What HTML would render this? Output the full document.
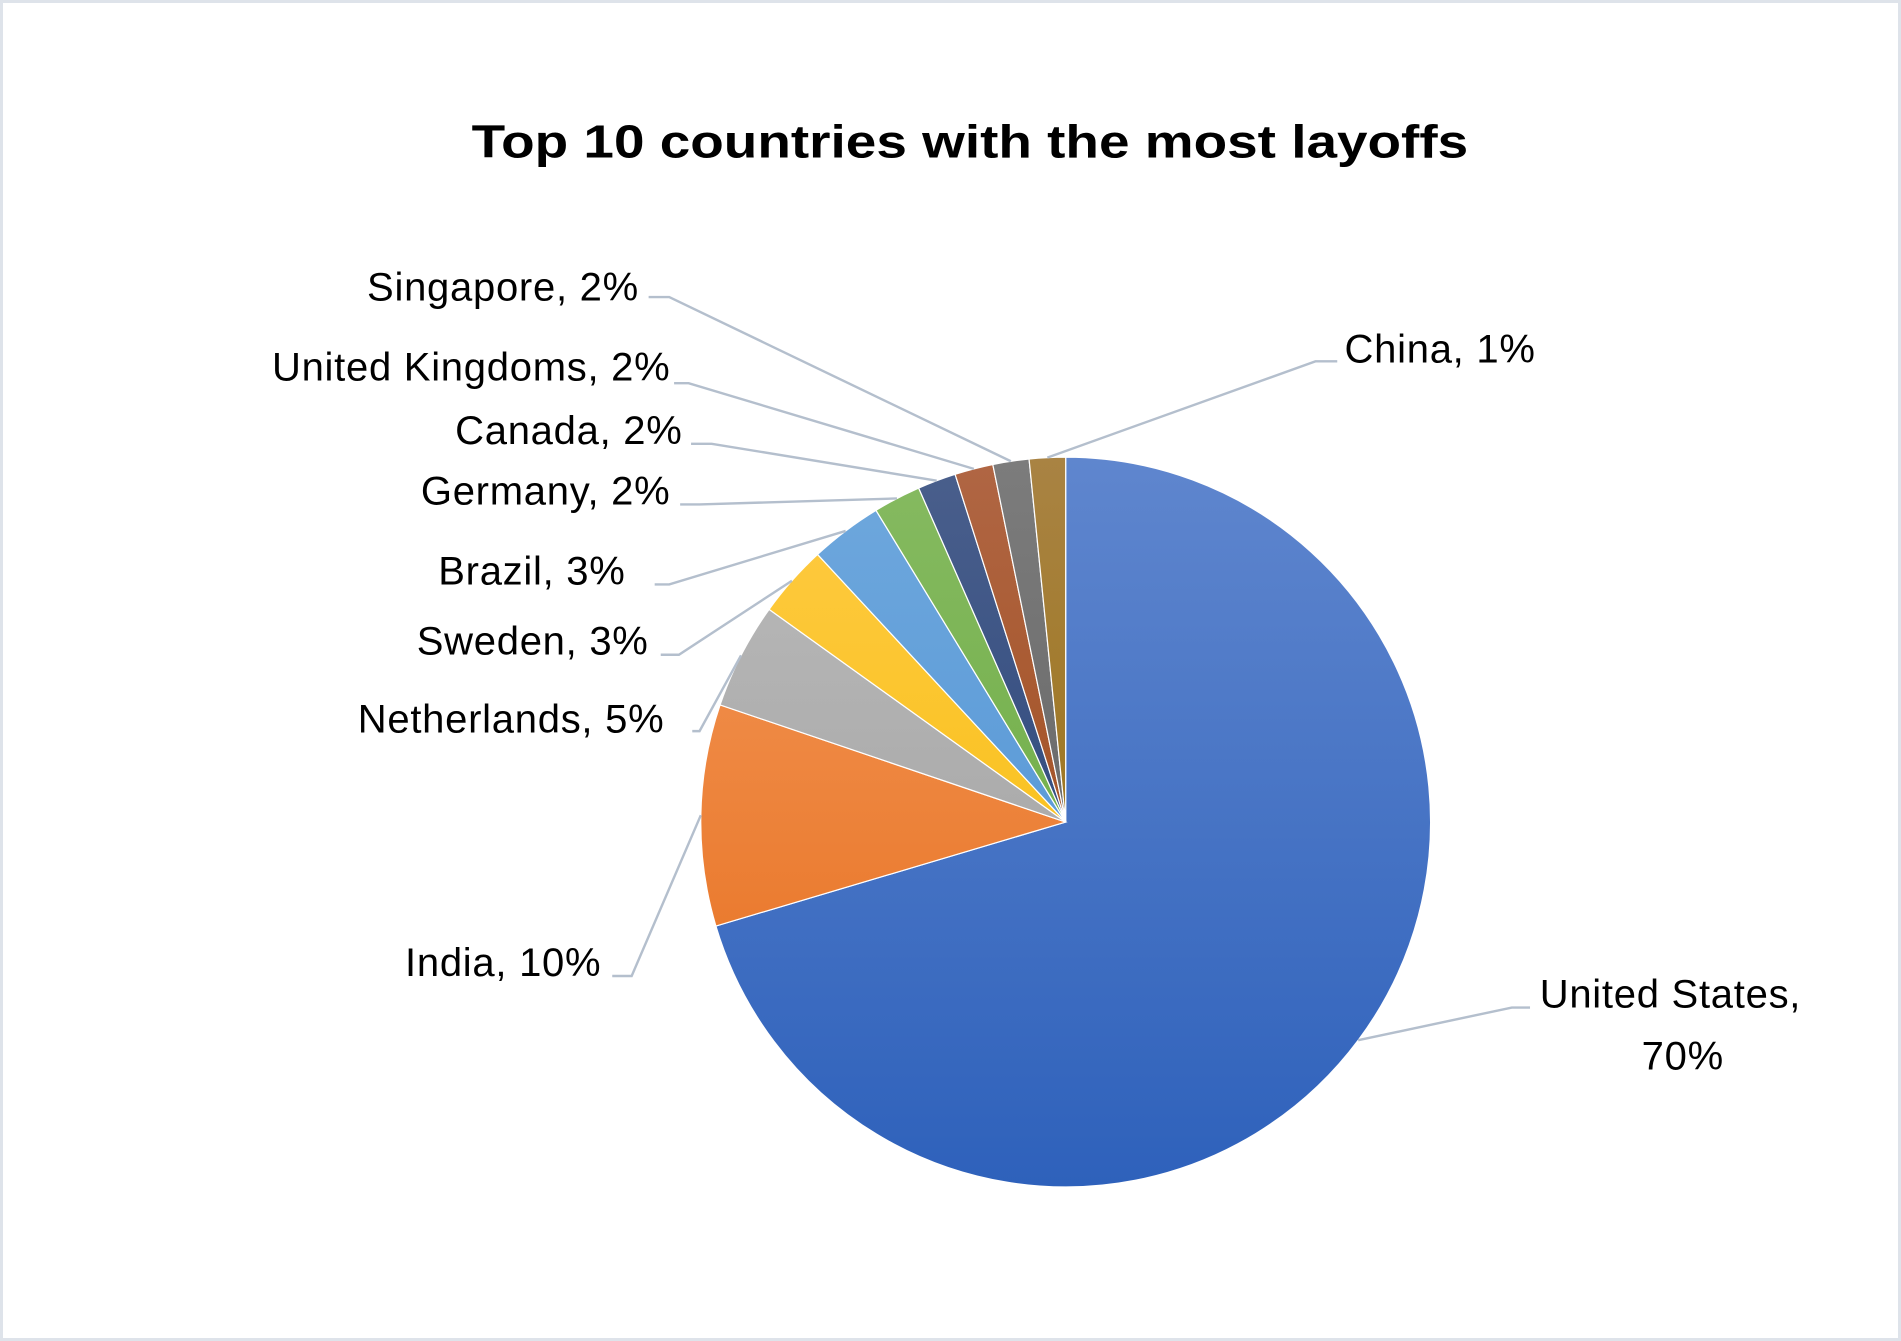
<!DOCTYPE html>
<html><head><meta charset="utf-8"><style>
html,body{margin:0;padding:0;background:#fff;}
#wrap{width:1901px;height:1341px;box-sizing:border-box;border:3px solid #DEE3EA;position:relative;overflow:hidden;}
svg{position:absolute;left:-3px;top:-3px;}
text{font-family:"Liberation Sans",sans-serif;fill:#000;}
</style></head><body>
<div id="wrap">
<svg id="chart" width="1901" height="1341" viewBox="0 0 1568 1106">
<defs id="defs"></defs>
<text x="800" y="130" text-anchor="middle" font-size="38" font-weight="bold" textLength="822" lengthAdjust="spacingAndGlyphs">Top 10 countries with the most layoffs</text>
<g id="slices"></g>
<g id="leaders"></g>
<g id="labels"></g>
</svg>
</div>
<script>
const categories = ["United States","India","Netherlands","Sweden","Brazil","Germany","Canada","United Kingdoms","Singapore","China"];
const values = [70.4, 9.8, 4.7, 3.2, 3.2, 2.1, 1.7, 1.7, 1.6, 1.6];
const percentLabels = ["70%","10%","5%","3%","3%","2%","2%","2%","2%","1%"];
const colorsTop = ["#5F86CE","#F49A5C","#BBBBBB","#FFCB45","#6FA8DD","#86BA61","#4A5F8C","#B06644","#7C7C7C","#A98343"];
const colorsBot = ["#2E61BB","#E56A17","#9C9C9C","#F4BA00","#4A8FD3","#64A83A","#1F3D75","#9A420B","#5A5A5A","#936B00"];
const labelLayout = [
 {x:1270,y:831,a:"start",line:[[1262,831],[1247,831]],two:true},
 {x:496,y:805,a:"end",line:[[505,805],[521,805]]},
 {x:548,y:604,a:"end",line:[[571,603],[577,603]]},
 {x:535,y:540,a:"end",line:[[545,540],[560,540]]},
 {x:516,y:482,a:"end",line:[[540,482],[552,482]]},
 {x:553,y:416,a:"end",line:[[561,416],[577,416]]},
 {x:563,y:366,a:"end",line:[[570,366],[587,366]]},
 {x:553,y:314,a:"end",line:[[556,316],[568,316]]},
 {x:527,y:248,a:"end",line:[[535,245],[552,245]]},
 {x:1109,y:299,a:"start",line:[[1103,298],[1085,298]]}
];
const cx=879, cy=678, r=301;
const NS="http://www.w3.org/2000/svg";
const total=values.reduce((a,b)=>a+b,0);
function pt(frac,rad){const t=frac*2*Math.PI;return [cx+rad*Math.sin(t), cy-rad*Math.cos(t)];}
const defs=document.getElementById('defs'),gs=document.getElementById('slices'),gl=document.getElementById('leaders'),gt=document.getElementById('labels');
let acc=0;
values.forEach((v,i)=>{
  const f0=acc/total, f1=(acc+v)/total; acc+=v;
  const g=document.createElementNS(NS,'linearGradient');
  g.setAttribute('id','g'+i);g.setAttribute('gradientUnits','userSpaceOnUse');
  g.setAttribute('x1',0);g.setAttribute('y1',cy-r);g.setAttribute('x2',0);g.setAttribute('y2',cy+r);
  g.innerHTML='<stop offset="0" stop-color="'+colorsTop[i]+'"/><stop offset="1" stop-color="'+colorsBot[i]+'"/>';
  defs.appendChild(g);
  const p0=pt(f0,r),p1=pt(f1,r);
  const large=(f1-f0)>0.5?1:0;
  const path=document.createElementNS(NS,'path');
  path.setAttribute('d','M'+cx+','+cy+' L'+p0[0]+','+p0[1]+' A'+r+','+r+' 0 '+large+' 1 '+p1[0]+','+p1[1]+' Z');
  path.setAttribute('fill','url(#g'+i+')');path.setAttribute('stroke','#fff');path.setAttribute('stroke-width','1');
  
  
  gs.appendChild(path);
  const L=labelLayout[i];
  const mid=pt((f0+f1)/2, r);
  const pts=L.line.concat([mid]);
  const pl=document.createElementNS(NS,'polyline');
  pl.setAttribute('points',pts.map(p=>p.join(',')).join(' '));
  pl.setAttribute('fill','none');pl.setAttribute('stroke','#B4BFCD');pl.setAttribute('stroke-width','2');
  
  
  gl.appendChild(pl);
  const t=document.createElementNS(NS,'text');
  t.setAttribute('font-size','33');t.setAttribute('text-anchor',L.a);t.setAttribute('letter-spacing','0.6');
  
  
  if(L.two){
    t.innerHTML='<tspan x="'+L.x+'" y="'+L.y+'">'+categories[i]+',</tspan><tspan x="'+(L.x+118)+'" y="'+(L.y+51)+'" text-anchor="middle">'+percentLabels[i]+'</tspan>';
  } else {
    t.setAttribute('x',L.x);t.setAttribute('y',L.y);
    t.textContent=categories[i]+', '+percentLabels[i];
  }
  gt.appendChild(t);
});
</script>
</body></html>
